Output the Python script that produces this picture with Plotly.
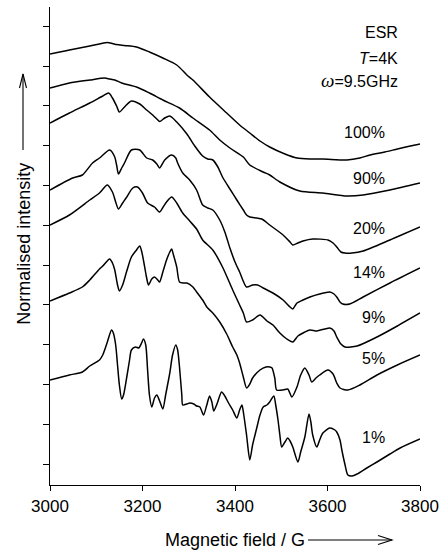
import plotly.graph_objects as go

# ESR spectra (field in G, vertically offset normalised intensity in arb. units)
field_100 = [3000, 3021, 3042, 3086, 3107, 3124, 3135, 3144, 3161, 3187, 3215, 3244, 3274, 3296, 3309, 3345,
             3382, 3410, 3432, 3454, 3475, 3508, 3534, 3562, 3590, 3642, 3670, 3692, 3724, 3751, 3779, 3800]
int_100 = [431, 433, 435, 439, 441, 442.5, 441.5, 440.5, 439.5, 438, 433, 427, 420, 410, 405, 388,
           372, 360, 352, 344, 338, 331, 327, 326, 326, 325, 327, 330, 333, 336, 339, 341]

field_90 = [3000, 3042, 3086, 3118, 3129, 3140, 3155, 3187, 3215, 3244, 3280, 3309, 3345, 3367, 3389, 3418,
            3432, 3461, 3475, 3497, 3540, 3590, 3642, 3677, 3735, 3800]
int_90 = [397, 402, 405, 407, 406, 405, 402, 398, 392, 385, 377, 367, 355, 345, 337, 328,
          320, 313, 310, 303, 294, 292, 289, 290, 295, 302]

field_20 = [3000, 3042, 3086, 3114, 3127, 3135, 3144, 3150, 3161, 3176,
            3194, 3209, 3222, 3231, 3237, 3248, 3259, 3274, 3296, 3313,
            3330, 3341, 3352, 3363, 3373, 3389, 3404, 3418, 3425, 3432,
            3447, 3458, 3475, 3504, 3519, 3525, 3536, 3547, 3568, 3601,
            3612, 3620, 3629, 3638, 3653, 3677, 3735, 3800]
int_20 = [362, 372, 382, 389, 392, 387, 379, 373, 378, 384,
          381, 375, 370, 366, 363.5, 367, 369, 363, 351, 339,
          329, 326, 325, 318, 308, 296, 285, 275, 270, 268,
          267, 266, 260, 250, 243, 240, 242, 244, 246, 245,
          242, 238, 233, 232, 232, 234, 245, 258]

field_14 = [3000, 3049, 3070, 3092, 3107, 3129, 3140, 3144, 3148, 3155,
            3161, 3176, 3194, 3209, 3222, 3231, 3237, 3248, 3263, 3272,
            3276, 3287, 3302, 3317, 3330, 3341, 3352, 3367, 3378, 3389,
            3400, 3410, 3425, 3438, 3449, 3461, 3482, 3504, 3519, 3525,
            3534, 3547, 3562, 3583, 3605, 3614, 3620, 3627, 3633, 3648,
            3677, 3735, 3800]
int_14 = [295, 307, 310, 322, 327, 335, 328, 320, 311, 317,
          322, 335, 335, 327, 325, 321, 317, 325, 330, 327,
          322, 312, 305, 295, 280, 277, 275, 265, 253, 237,
          223, 213, 198, 200, 200, 197, 192, 185, 178, 176,
          182, 185, 188, 191, 193, 191, 188, 183, 181, 181,
          188, 202, 217]

field_9 = [3000, 3042, 3086, 3107, 3124, 3135, 3142, 3148, 3157, 3166,
           3179, 3189, 3200, 3211, 3226, 3237, 3246, 3252, 3263, 3274,
           3287, 3302, 3317, 3330, 3352, 3373, 3395, 3410, 3418, 3425,
           3438, 3454, 3469, 3482, 3497, 3512, 3525, 3536, 3547, 3562,
           3577, 3605, 3614, 3620, 3629, 3638, 3664, 3707, 3751, 3800]
int_9 = [260, 270, 285, 292, 300, 293, 283, 276, 282, 288,
         297, 298, 292, 282, 278, 273, 279, 283, 288, 282,
         272, 264, 256, 245, 235, 218, 195, 180, 172, 163,
         165, 170, 164, 160, 152, 146, 143, 149, 152, 155,
         154, 157, 154, 148, 141, 138, 139, 148, 159, 172]

field_5 = [3000, 3042, 3070, 3086, 3107, 3114, 3129, 3135, 3140, 3146,
           3150, 3157, 3166, 3176, 3187, 3194, 3198, 3202, 3209, 3213,
           3220, 3226, 3233, 3237, 3244, 3252, 3259, 3263, 3267, 3274,
           3280, 3289, 3296, 3309, 3317, 3330, 3339, 3352, 3367, 3382,
           3395, 3404, 3410, 3418, 3425, 3432, 3438, 3454, 3467, 3475,
           3480, 3486, 3490, 3504, 3514, 3523, 3534, 3542, 3551, 3560,
           3566, 3575, 3583, 3601, 3612, 3620, 3627, 3644, 3670, 3707,
           3751, 3800]
int_5 = [184, 192, 198, 205, 216, 219, 226, 222, 215, 200,
         194, 200, 214, 228, 235, 239, 234, 225, 207, 200,
         206, 208, 205, 203, 213, 225, 233, 236, 230, 218,
         203, 202, 202, 198, 193, 185, 178, 172, 163, 151,
         138, 130, 122, 108, 97, 101, 107, 115, 118, 118,
         117, 107, 95, 95, 96, 88, 98, 110, 117, 110,
         103, 107, 110, 115, 111, 102, 97, 95, 100, 110,
         120, 130]

field_1 = [3000, 3042, 3070, 3086, 3107, 3114, 3124, 3133, 3137, 3142,
           3146, 3150, 3155, 3159, 3166, 3172, 3176, 3185, 3192, 3198,
           3202, 3207, 3211, 3215, 3220, 3226, 3231, 3237, 3244, 3250,
           3259, 3265, 3272, 3276, 3280, 3285, 3287, 3296, 3302, 3311,
           3317, 3324, 3332, 3339, 3345, 3350, 3354, 3361, 3371, 3378,
           3386, 3395, 3404, 3410, 3415, 3419, 3425, 3432, 3438, 3447,
           3454, 3461, 3469, 3475, 3484, 3488, 3493, 3497, 3501, 3508,
           3514, 3519, 3525, 3536, 3542, 3551, 3560, 3564, 3568, 3577,
           3583, 3590, 3605, 3616, 3620, 3627, 3631, 3638, 3644, 3653,
           3664, 3685, 3707, 3735, 3757, 3800]
int_1 = [105, 110, 113, 119, 125, 130, 143, 155, 152, 140,
         120, 100, 86, 90, 108, 125, 135, 138, 137, 142,
         146, 140, 115, 90, 78, 87, 90, 84, 76, 90,
         112, 130, 140, 135, 118, 90, 80, 81, 82, 81,
         79, 78, 70, 80, 89, 83, 74, 81, 93, 89,
         82, 75, 67, 75, 80, 70, 50, 25, 40, 57,
         70, 78, 80, 83, 89, 80, 65, 50, 38, 43,
         47, 44, 38, 23, 33, 48, 71, 63, 50, 38,
         45, 52, 57, 55, 53, 45, 35, 20, 10, 9,
         11, 17, 23, 31, 37, 46]

series = [
    ("100%", field_100, int_100, 353),
    ("90%", field_90, int_90, 307),
    ("20%", field_20, int_20, 257),
    ("14%", field_14, int_14, 213),
    ("9%", field_9, int_9, 168),
    ("5%", field_5, int_5, 127),
    ("1%", field_1, int_1, 48),
]

x_ticks = [3000, 3200, 3400, 3600, 3800]
FONT = "Arial, Liberation Sans, Helvetica, sans-serif"

fig = go.Figure()
for name, xs, ys, _ in series:
    fig.add_trace(go.Scatter(
        x=xs, y=ys, mode="lines", name=name,
        line=dict(color="black", width=1.5, shape="spline", smoothing=0.7),
        showlegend=False, hoverinfo="skip",
    ))

annotations = []
for name, xs, ys, label_y in series:
    annotations.append(dict(x=3728, y=label_y, xref="x", yref="y", text=name,
                            showarrow=False, xanchor="right", yanchor="middle",
                            font=dict(size=16, color="black", family=FONT)))

omega = '<span style="font-family:Liberation Serif;font-size:19px"><i>ω</i></span>'
for text, yy in [("ESR", 453), ("<i>T</i>=4K", 427), (omega + "=9.5GHz", 405)]:
    annotations.append(dict(x=3757, y=yy, xref="x", yref="y", text=text,
                            showarrow=False, xanchor="right", yanchor="middle",
                            font=dict(size=16, color="black", family=FONT)))

# axis titles
annotations.append(dict(x=0.501, y=-0.115, xref="paper", yref="paper",
                        text="Magnetic field / G", showarrow=False,
                        xanchor="center", yanchor="middle",
                        font=dict(size=18, color="black", family=FONT)))
annotations.append(dict(x=-0.07, y=0.505, xref="paper", yref="paper",
                        text="Normalised intensity", showarrow=False, textangle=-90,
                        xanchor="center", yanchor="middle",
                        font=dict(size=18, color="black", family=FONT)))

W, H = 370.0, 478.0


def px(xp):
    return (xp - 50) / W


def py(yp):
    return (485 - yp) / H


arrow_style = dict(color="black", width=1.1)
shapes = [
    # arrow after the x-axis title
    dict(type="line", xref="paper", yref="paper", x0=px(308), y0=py(540), x1=px(392), y1=py(540), line=arrow_style),
    dict(type="path", xref="paper", yref="paper",
         path=f"M{px(378)},{py(535.5)} L{px(392)},{py(540)} L{px(378)},{py(544.5)}", line=arrow_style),
    # arrow above the y-axis title
    dict(type="line", xref="paper", yref="paper", x0=px(23), y0=py(150), x1=px(23), y1=py(74), line=arrow_style),
    dict(type="path", xref="paper", yref="paper",
         path=f"M{px(19.5)},{py(88)} L{px(23)},{py(74)} L{px(26.5)},{py(88)}", line=arrow_style),
]

fig.update_layout(
    width=445, height=551,
    margin=dict(l=50, r=25, t=7, b=66, autoexpand=False),
    paper_bgcolor="white", plot_bgcolor="white",
    annotations=annotations, shapes=shapes,
    font=dict(family=FONT, color="black"),
)
fig.update_xaxes(
    range=[3000, 3800], tickvals=x_ticks, ticktext=[str(v) for v in x_ticks],
    showgrid=False, zeroline=False, showline=True, linecolor="black", linewidth=1.3,
    ticks="outside", ticklen=5, tickwidth=1.2, tickcolor="black",
    tickfont=dict(size=17, family=FONT, color="black"),
)
fig.update_yaxes(
    range=[0, 478], tick0=21, dtick=39.8, showticklabels=False,
    showgrid=False, zeroline=False, showline=True, linecolor="black", linewidth=1.3,
    ticks="outside", ticklen=6, tickwidth=1.2, tickcolor="black",
)

fig.write_html("out.html")
